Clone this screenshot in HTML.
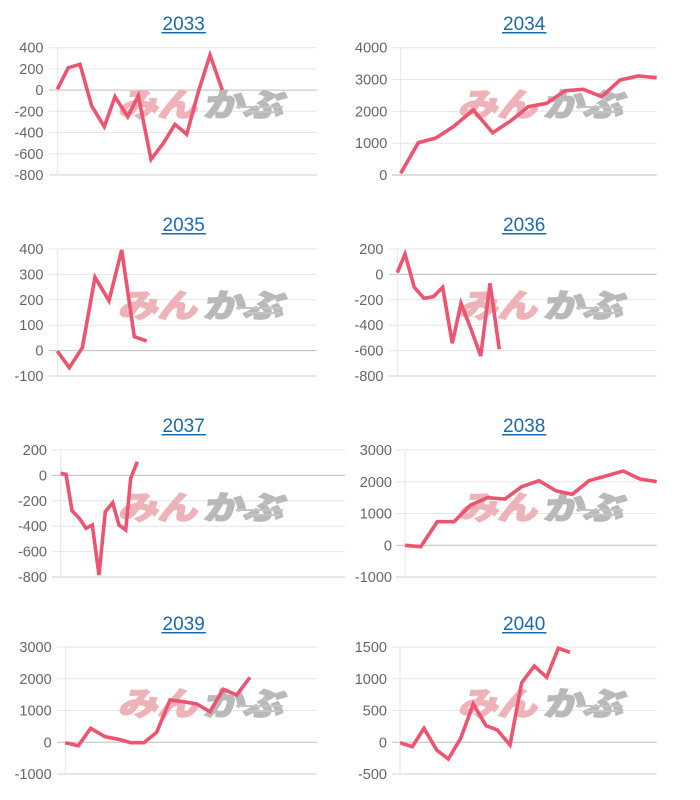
<!DOCTYPE html>
<html><head><meta charset="utf-8"><style>
html,body{margin:0;padding:0;background:#fff;}
svg{display:block;}
.t{font-family:"Liberation Sans",Arial,sans-serif;font-size:14.5px;fill:#666;text-anchor:end;}
.h{font-family:"Liberation Sans",Arial,sans-serif;font-size:19px;fill:#1a6ab0;text-anchor:middle;}
.g{stroke:#e6e6e6;stroke-width:1;}
.z{stroke:#bdbdbd;stroke-width:1;}
.b{stroke:#cfcfcf;stroke-width:1;}
.ln{fill:none;stroke:#ee5470;stroke-width:3.6;stroke-linejoin:miter;stroke-linecap:butt;}
.wp{font-family:"Noto Sans CJK JP","WenQuanYi Zen Hei",sans-serif;font-weight:bold;font-size:32px;fill:#eeb3b8;stroke:#eeb3b8;stroke-width:2.2;}
.wg{font-family:"Noto Sans CJK JP","WenQuanYi Zen Hei",sans-serif;font-weight:bold;font-size:32px;fill:#b9b9b9;stroke:#b9b9b9;stroke-width:2.2;}
.sl{stroke:#c4c4c4;stroke-width:2;}
</style></head><body>
<svg width="700" height="800" viewBox="0 0 700 800" xmlns="http://www.w3.org/2000/svg">
<defs>
<g id="wm">
<g transform="skewX(-12)"><text class="wp" x="0" y="0" textLength="79" lengthAdjust="spacingAndGlyphs">みん</text></g>
<g transform="translate(85,0) skewX(-12)"><text class="wg" x="0" y="0" textLength="80" lengthAdjust="spacingAndGlyphs">かぶ</text></g>
<line class="sl" x1="118" y1="-9" x2="165" y2="-9"/>
<line class="sl" x1="128" y1="-4" x2="162" y2="-4"/>
</g>
</defs>

<!-- ===== 2033 ===== -->
<text class="h" x="183.7" y="30">2033</text>
<line x1="161.5" y1="32.8" x2="205.9" y2="32.8" stroke="#1a6ab0" stroke-width="1.5"/>
<g>
<line class="g" x1="49" y1="47.7" x2="316.7" y2="47.7"/>
<line class="g" x1="49" y1="68.9" x2="316.7" y2="68.9"/>
<line class="z" x1="49" y1="90.1" x2="316.7" y2="90.1"/>
<line class="g" x1="49" y1="111.3" x2="316.7" y2="111.3"/>
<line class="g" x1="49" y1="132.5" x2="316.7" y2="132.5"/>
<line class="g" x1="49" y1="153.8" x2="316.7" y2="153.8"/>
<line class="b" x1="49" y1="175" x2="316.7" y2="175"/>
<line class="g" x1="57.3" y1="47.7" x2="57.3" y2="175"/>
<text class="t" x="43.5" y="52.7">400</text>
<text class="t" x="43.5" y="73.9">200</text>
<text class="t" x="43.5" y="95.1">0</text>
<text class="t" x="43.5" y="116.3">-200</text>
<text class="t" x="43.5" y="137.5">-400</text>
<text class="t" x="43.5" y="158.8">-600</text>
<text class="t" x="43.5" y="180">-800</text>
</g>
<use href="#wm" transform="translate(118,116)"/>
<polyline class="ln" points="57.3,89.3 68.3,67.7 80,64.3 91.7,106 104.3,126.7 115,96.7 127.7,116.7 138.3,95.7 151,159.3 163.3,143.3 175,124.3 186.7,134.3 198.3,92 210,55 222.3,90"/>

<!-- ===== 2034 ===== -->
<text class="h" x="524.2" y="30">2034</text>
<line x1="502" y1="32.8" x2="546.4" y2="32.8" stroke="#1a6ab0" stroke-width="1.5"/>
<g>
<line class="g" x1="392" y1="47.7" x2="656.7" y2="47.7"/>
<line class="g" x1="392" y1="79.5" x2="656.7" y2="79.5"/>
<line class="g" x1="392" y1="111.4" x2="656.7" y2="111.4"/>
<line class="g" x1="392" y1="143.2" x2="656.7" y2="143.2"/>
<line class="z" x1="392" y1="175" x2="656.7" y2="175"/>
<line class="g" x1="400.7" y1="47.7" x2="400.7" y2="175"/>
<text class="t" x="387.3" y="52.7">4000</text>
<text class="t" x="387.3" y="84.5">3000</text>
<text class="t" x="387.3" y="116.4">2000</text>
<text class="t" x="387.3" y="148.2">1000</text>
<text class="t" x="387.3" y="180">0</text>
</g>
<use href="#wm" transform="translate(458,116)"/>
<polyline class="ln" points="400.7,173.3 418.3,142.7 436,138 453.3,126.7 473.3,110 492.7,132.7 511,120.7 528.3,106.7 546.7,103.3 565,90.7 583.3,89.3 601.7,96.7 620,80 638.3,76 656.7,77.7"/>

<!-- ===== 2035 ===== -->
<text class="h" x="183.7" y="231">2035</text>
<line x1="161.5" y1="233.8" x2="205.9" y2="233.8" stroke="#1a6ab0" stroke-width="1.5"/>
<g>
<line class="g" x1="49" y1="249" x2="316.7" y2="249"/>
<line class="g" x1="49" y1="274.4" x2="316.7" y2="274.4"/>
<line class="g" x1="49" y1="299.8" x2="316.7" y2="299.8"/>
<line class="g" x1="49" y1="325.2" x2="316.7" y2="325.2"/>
<line class="z" x1="49" y1="350.6" x2="316.7" y2="350.6"/>
<line class="b" x1="49" y1="376" x2="316.7" y2="376"/>
<line class="g" x1="57.3" y1="249" x2="57.3" y2="376"/>
<text class="t" x="43.5" y="254">400</text>
<text class="t" x="43.5" y="279.4">300</text>
<text class="t" x="43.5" y="304.8">200</text>
<text class="t" x="43.5" y="330.2">100</text>
<text class="t" x="43.5" y="355.6">0</text>
<text class="t" x="43.5" y="381">-100</text>
</g>
<use href="#wm" transform="translate(118,317)"/>
<polyline class="ln" points="57.3,351 69.3,367.7 82.3,347.7 95,277.3 109,300.7 121.7,250 134.3,336.7 146.7,341"/>

<!-- ===== 2036 ===== -->
<text class="h" x="524.2" y="231">2036</text>
<line x1="502" y1="233.8" x2="546.4" y2="233.8" stroke="#1a6ab0" stroke-width="1.5"/>
<g>
<line class="g" x1="389" y1="249" x2="656.7" y2="249"/>
<line class="z" x1="389" y1="274.4" x2="656.7" y2="274.4"/>
<line class="g" x1="389" y1="299.8" x2="656.7" y2="299.8"/>
<line class="g" x1="389" y1="325.2" x2="656.7" y2="325.2"/>
<line class="g" x1="389" y1="350.6" x2="656.7" y2="350.6"/>
<line class="b" x1="389" y1="376" x2="656.7" y2="376"/>
<line class="g" x1="397.3" y1="249" x2="397.3" y2="376"/>
<text class="t" x="383.5" y="254">200</text>
<text class="t" x="383.5" y="279.4">0</text>
<text class="t" x="383.5" y="304.8">-200</text>
<text class="t" x="383.5" y="330.2">-400</text>
<text class="t" x="383.5" y="355.6">-600</text>
<text class="t" x="383.5" y="381">-800</text>
</g>
<use href="#wm" transform="translate(458,317)"/>
<polyline class="ln" points="397.3,272.7 405,254 414.3,287.3 424,298.3 433.3,296.7 442.7,287.3 452.3,343.3 461,303.3 470.7,328.3 480.7,356 490,283.3 499.3,349.3"/>

<!-- ===== 2037 ===== -->
<text class="h" x="183.7" y="432">2037</text>
<line x1="161.5" y1="434.8" x2="205.9" y2="434.8" stroke="#1a6ab0" stroke-width="1.5"/>
<g>
<line class="g" x1="52" y1="450" x2="345" y2="450"/>
<line class="z" x1="52" y1="475.4" x2="345" y2="475.4"/>
<line class="g" x1="52" y1="500.8" x2="345" y2="500.8"/>
<line class="g" x1="52" y1="526.2" x2="345" y2="526.2"/>
<line class="g" x1="52" y1="551.6" x2="345" y2="551.6"/>
<line class="b" x1="52" y1="577" x2="345" y2="577"/>
<line class="g" x1="60.7" y1="450" x2="60.7" y2="577"/>
<text class="t" x="47" y="455">200</text>
<text class="t" x="47" y="480.4">0</text>
<text class="t" x="47" y="505.8">-200</text>
<text class="t" x="47" y="531.2">-400</text>
<text class="t" x="47" y="556.6">-600</text>
<text class="t" x="47" y="582">-800</text>
</g>
<use href="#wm" transform="translate(118,519)"/>
<polyline class="ln" points="60.7,473.3 66,474.3 72,510.7 79.3,518.3 86,528.3 92.3,525 99,575 105.3,511.7 112.7,502.7 119,525 125.7,530 130.7,478.3 137.3,461.7"/>

<!-- ===== 2038 ===== -->
<text class="h" x="524.2" y="432">2038</text>
<line x1="502" y1="434.8" x2="546.4" y2="434.8" stroke="#1a6ab0" stroke-width="1.5"/>
<g>
<line class="g" x1="396" y1="450" x2="656.7" y2="450"/>
<line class="g" x1="396" y1="481.75" x2="656.7" y2="481.75"/>
<line class="g" x1="396" y1="513.5" x2="656.7" y2="513.5"/>
<line class="z" x1="396" y1="545.25" x2="656.7" y2="545.25"/>
<line class="b" x1="396" y1="577" x2="656.7" y2="577"/>
<line class="g" x1="405" y1="450" x2="405" y2="577"/>
<text class="t" x="392" y="455">3000</text>
<text class="t" x="392" y="486.75">2000</text>
<text class="t" x="392" y="518.5">1000</text>
<text class="t" x="392" y="550.25">0</text>
<text class="t" x="392" y="582">-1000</text>
</g>
<use href="#wm" transform="translate(458,519)"/>
<polyline class="ln" points="405,545.3 420.7,546.7 437.3,521.7 454,521.7 470.7,505 487.3,497.7 505,499 521.7,486.7 539,480.7 555.7,490.7 572.3,494.3 589,480.7 605.7,476 623.3,471 640,479 656.7,481.7"/>

<!-- ===== 2039 ===== -->
<text class="h" x="183.7" y="630">2039</text>
<line x1="161.5" y1="632.8" x2="205.9" y2="632.8" stroke="#1a6ab0" stroke-width="1.5"/>
<g>
<line class="g" x1="57" y1="647" x2="316.7" y2="647"/>
<line class="g" x1="57" y1="678.75" x2="316.7" y2="678.75"/>
<line class="g" x1="57" y1="710.5" x2="316.7" y2="710.5"/>
<line class="z" x1="57" y1="742.25" x2="316.7" y2="742.25"/>
<line class="b" x1="57" y1="774" x2="316.7" y2="774"/>
<line class="g" x1="65.3" y1="647" x2="65.3" y2="774"/>
<text class="t" x="51.7" y="652">3000</text>
<text class="t" x="51.7" y="683.75">2000</text>
<text class="t" x="51.7" y="715.5">1000</text>
<text class="t" x="51.7" y="747.25">0</text>
<text class="t" x="51.7" y="779">-1000</text>
</g>
<use href="#wm" transform="translate(118,715)"/>
<polyline class="ln" points="65.3,742.7 78.3,745.7 90.7,728.3 105,736.7 118.3,739.3 131,742.7 144,742.7 156.7,732.3 170,700 183.3,701.7 196.7,704 210,711.7 223.3,689.3 236.7,695 250,677.3"/>

<!-- ===== 2040 ===== -->
<text class="h" x="524.2" y="630">2040</text>
<line x1="502" y1="632.8" x2="546.4" y2="632.8" stroke="#1a6ab0" stroke-width="1.5"/>
<g>
<line class="g" x1="392" y1="647" x2="656.7" y2="647"/>
<line class="g" x1="392" y1="678.75" x2="656.7" y2="678.75"/>
<line class="g" x1="392" y1="710.5" x2="656.7" y2="710.5"/>
<line class="z" x1="392" y1="742.25" x2="656.7" y2="742.25"/>
<line class="b" x1="392" y1="774" x2="656.7" y2="774"/>
<line class="g" x1="400" y1="647" x2="400" y2="774"/>
<text class="t" x="387" y="652">1500</text>
<text class="t" x="387" y="683.75">1000</text>
<text class="t" x="387" y="715.5">500</text>
<text class="t" x="387" y="747.25">0</text>
<text class="t" x="387" y="779">-500</text>
</g>
<use href="#wm" transform="translate(458,715)"/>
<polyline class="ln" points="400,742.7 412.3,746.7 424,728.3 436.7,750 448.3,759 460.7,738.3 473.3,704 486,725.7 497.3,730 510,745 521.7,682.7 534.3,666 546.7,677.3 558.3,648.3 570,652.3"/>

</svg>
</body></html>
